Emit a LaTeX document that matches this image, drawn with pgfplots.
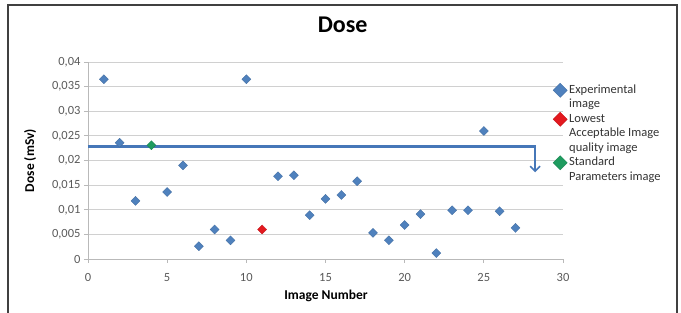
\documentclass[border=0pt]{standalone}
\usepackage{pgfplots}
\pgfplotsset{compat=1.18}
\usepackage{fontspec}
\setmainfont{Carlito}
\usetikzlibrary{arrows.meta}
\definecolor{expblue}{HTML}{4F81BD}
\definecolor{lowred}{HTML}{E3191F}
\definecolor{stdgreen}{HTML}{1F9B5F}
\definecolor{arrowblue}{HTML}{4677B8}
\definecolor{tickgray}{HTML}{595959}
\definecolor{gridgray}{HTML}{D0D0D0}
\begin{document}
\begin{tikzpicture}[x=1pt,y=1pt]
\path[use as bounding box] (-88,-54) rectangle (593,259);
\draw[line width=1.6pt, color=black!75] (-80,-60) -- (-80,254) -- (589,254) -- (589,-60);
\begin{axis}[
  at={(0,0)}, anchor=south west,
  scale only axis, width=475pt, height=197pt,
  xmin=0, xmax=30, ymin=0, ymax=0.04,
  xtick={0,5,10,15,20,25,30},
  ytick={0,0.005,0.01,0.015,0.02,0.025,0.03,0.035,0.04},
  axis lines*=left,
  axis line style={draw=gray!55, line width=0.8pt},
  ymajorgrids, grid style={gridgray, line width=0.9pt},
  tick align=outside, major tick length=4pt, tick style={gray!55, line width=0.8pt},
  ticklabel style={font=\fontsize{12.5}{14}\selectfont, text=tickgray},
  xticklabel style={yshift=-7pt},
  /pgf/number format/.cd, use comma, fixed, precision=3, assume math mode=true, /pgfplots/.cd,
  scaled y ticks=false,
  xlabel={Image Number}, ylabel={Dose (mSv)},
  label style={font=\bfseries\fontsize{13.5}{16}\selectfont},
  xlabel style={at={(axis description cs:0.501,-0.188)}, anchor=center},
  ylabel style={at={(axis description cs:-0.122,0.5)}, anchor=center},
  title={Dose},
  title style={at={(axis description cs:0.536,1.157)}, anchor=center, font=\bfseries\fontsize{24}{28}\selectfont},
  legend style={at={(axis description cs:0.9937,0.888)}, anchor=north west, draw=none, fill=none,
    inner sep=0pt, font=\fontsize{12.5}{14.5}\selectfont, text=black!80,
    cells={anchor=west}, nodes={inner sep=0pt, text height=9pt, text depth=3pt},
    row sep=2.5pt, column sep=9pt},
  legend image code/.code={\draw[overlay,#1, mark size=5pt] plot coordinates {(0pt,0pt)};},
]
\addplot[forget plot, arrowblue, line width=2.6pt, line join=miter,
  -{Straight Barb[length=5pt, width=10pt, line width=1.6pt]}]
  coordinates {(0,0.0229) (28.24,0.0229) (28.24,0.0176)};
\addplot[only marks, mark=square*, mark size=3.2pt, mark options={rotate=45, fill=expblue, draw=expblue!85!black, line width=0.3pt}]
  coordinates {
  (1,0.0365) (2,0.0236) (3,0.0118) (5,0.0136) (6,0.0190) (7,0.0026) (8,0.0060)
  (9,0.0038) (10,0.0365) (12,0.0168) (13,0.0170) (14,0.0089) (15,0.0122)
  (16,0.0130) (17,0.0158) (18,0.0053) (19,0.0038) (20,0.0069) (21,0.0091)
  (22,0.0012) (23,0.0099) (24,0.0099) (25,0.0260) (26,0.0097) (27,0.0063)
  };
\addlegendentry{Experimental}
\addlegendimage{empty legend}
\addlegendentry{image}
\addplot[only marks, mark=square*, mark size=3.2pt, mark options={rotate=45, fill=lowred, draw=lowred!85!black, line width=0.3pt}]
  coordinates {(11,0.0060)};
\addlegendentry{Lowest}
\addlegendimage{empty legend}
\addlegendentry{Acceptable Image}
\addlegendimage{empty legend}
\addlegendentry{quality image}
\addplot[only marks, mark=square*, mark size=3.2pt, mark options={rotate=45, fill=stdgreen, draw=stdgreen!85!black, line width=0.3pt}]
  coordinates {(4,0.0231)};
\addlegendentry{Standard}
\addlegendimage{empty legend}
\addlegendentry{Parameters image}
\end{axis}
\end{tikzpicture}
\end{document}
